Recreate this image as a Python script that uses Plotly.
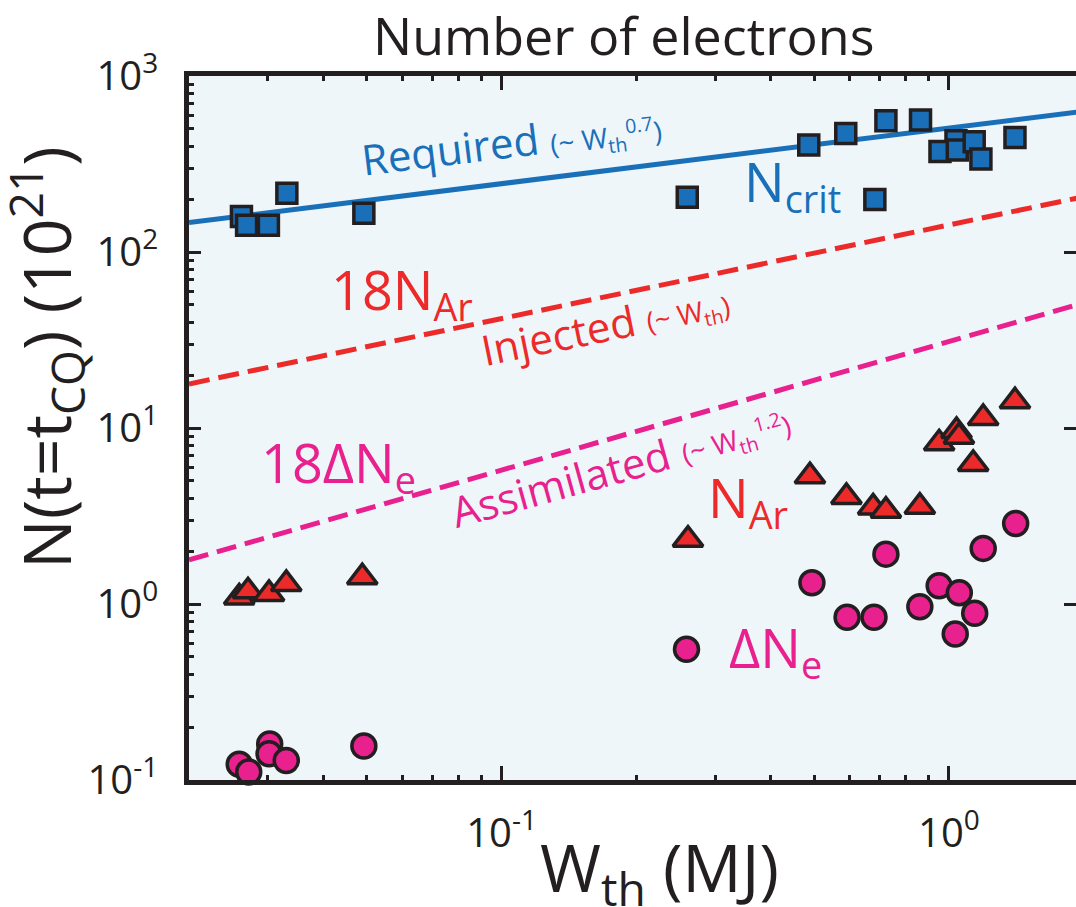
import math
import plotly.graph_objects as go

# ---------------- data ----------------
# N_crit (required number of electrons), blue squares
ncrit_w = [0.0262, 0.0269, 0.0301, 0.0331, 0.0492, 0.260, 0.486, 0.588, 0.723, 0.864,
           1.037, 0.955, 1.044, 1.139, 1.179, 1.405, 0.683]
ncrit_n = [159, 142, 142, 216, 166, 205, 405, 472, 557, 562,
           429, 372, 380, 423, 338, 448, 199]

# N_Ar (injected argon), red triangles
nar_w = [0.0259, 0.0271, 0.0302, 0.0330, 0.0488, 0.261, 0.489, 0.590, 0.677, 0.723,
         0.861, 0.951, 1.040, 1.053, 1.133, 1.193, 1.405]
nar_n = [1.09, 1.18, 1.14, 1.30, 1.42, 2.32, 5.32, 4.06, 3.54, 3.39,
         3.57, 8.19, 9.62, 8.93, 6.25, 11.4, 14.2]

# Delta N_e (assimilated), magenta circles
dne_w = [0.0259, 0.0272, 0.0303, 0.0302, 0.0330, 0.0492, 0.259, 0.494, 0.592, 0.680,
         0.723, 0.861, 0.951, 1.055, 1.142, 1.033, 1.193, 1.410]
dne_n = [0.123, 0.111, 0.160, 0.141, 0.129, 0.156, 0.553, 1.32, 0.84, 0.84,
         1.92, 0.965, 1.27, 1.16, 0.886, 0.675, 2.07, 2.87]

# fitted trend lines (end points)
fit_w = [0.02, 2.0]
required_n = [147, 630]
injected_n = [17.8, 206]
assimilated_n = [1.78, 51.4]

# ticks
y_tickvals = [0.1, 1, 10, 100, 1000]
y_ticktext = ["10<sup>-1</sup>", "10<sup>0</sup>", "10<sup>1</sup>", "10<sup>2</sup>", "10<sup>3</sup>"]
x_tickvals = [0.1, 1]
x_ticktext = ["10<sup>-1</sup>", "10<sup>0</sup>"]
minor_vals = [m * 10 ** e for e in range(-2, 4) for m in range(2, 10)]

# ---------------- styles ----------------
INK = "#231F20"
BLUE = "#1A70B8"
RED = "#EC2A2A"
MAG = "#E8218E"
BG = "#EEF6FA"
FONT = "Open Sans"

W, H = 1076, 907
L, R, T, B = 189, 0, 76, 127
x_hi = -1 + (1076 - 502) / 447.0  # log10 of right edge


def px(xp):
    return (xp - L) / (W - L - R)


def py(yp):
    return (H - B - yp) / (H - T - B)


fig = go.Figure()

fig.add_trace(go.Scatter(x=fit_w, y=required_n, mode="lines",
                         line=dict(color=BLUE, width=5), hoverinfo="skip"))
fig.add_trace(go.Scatter(x=fit_w, y=injected_n, mode="lines",
                         line=dict(color=RED, width=5, dash="21px,9px"), hoverinfo="skip"))
fig.add_trace(go.Scatter(x=fit_w, y=assimilated_n, mode="lines",
                         line=dict(color=MAG, width=5, dash="20px,9px"), hoverinfo="skip"))

fig.add_trace(go.Scatter(x=ncrit_w, y=ncrit_n, mode="markers", cliponaxis=False,
                         marker=dict(symbol="square", size=20, color=BLUE,
                                     line=dict(color=INK, width=3.5))))
fig.add_trace(go.Scatter(x=nar_w, y=nar_n, mode="markers", cliponaxis=False,
                         marker=dict(symbol="triangle-up", size=26, color=RED,
                                     line=dict(color=INK, width=3.5))))
fig.add_trace(go.Scatter(x=dne_w, y=dne_n, mode="markers", cliponaxis=False,
                         marker=dict(symbol="circle", size=24, color=MAG,
                                     line=dict(color=INK, width=3.5))))
# carrier for right-side tick axis
fig.add_trace(go.Scatter(x=[None], y=[None], yaxis="y2", mode="markers", hoverinfo="skip"))

ann = []


def add(text, x, y, size, color, angle=0):
    ann.append(dict(text=text, x=px(x), y=py(y), xref="paper", yref="paper",
                    showarrow=False, xanchor="center", yanchor="middle",
                    textangle=angle, font=dict(family=FONT, size=size, color=color)))


add("Number of electrons", 623, 35, 52, INK)
add("W<sub>th</sub> (MJ)", 659, 870, 66, INK)
add("N(t=t<sub>CQ</sub>) (10<sup>21</sup>)", 47, 358, 66, INK, -90)

add("Required", 450, 148, 42, BLUE, -7)
add("(~ W<sub>th</sub><sup>0.7</sup>)", 606, 138, 28, BLUE, -7)
add("N<sub>crit</sub>", 792, 184, 54, BLUE)

add("18N<sub>Ar</sub>", 402, 292, 54, RED)
add("Injected", 558, 334, 42, RED, -11.5)
add("(~ W<sub>th</sub>)", 688, 315, 28, RED, -11.5)
add("N<sub>Ar</sub>", 748, 500, 54, RED)

add("18ΔN<sub>e</sub>", 338, 465, 54, MAG)
add("Assimilated", 560, 482, 42, MAG, -15.5)
add("(~ W<sub>th</sub><sup>1.2</sup>)", 736, 439, 28, MAG, -15.5)
add("ΔN<sub>e</sub>", 775, 650, 54, MAG)

fig.update_layout(
    width=W, height=H,
    margin=dict(l=L, r=R, t=T, b=B, pad=0),
    paper_bgcolor="white", plot_bgcolor=BG,
    showlegend=False,
    font=dict(family=FONT, color=INK),
    annotations=ann,
    xaxis=dict(type="log", range=[math.log10(0.02), x_hi],
               showline=True, linecolor=INK, linewidth=4.5, mirror="ticks",
               ticks="inside", ticklen=14, tickwidth=3, tickcolor=INK,
               tickmode="array", tickvals=x_tickvals, ticktext=x_ticktext,
               tickfont=dict(family=FONT, size=40, color=INK),
               ticklabelstandoff=14,
               minor=dict(tickmode="array", tickvals=minor_vals, ticks="inside",
                          ticklen=5, tickwidth=2.5, tickcolor=INK, showgrid=False),
               showgrid=False, zeroline=False),
    yaxis=dict(type="log", range=[-1, 3],
               showline=True, linecolor=INK, linewidth=4.5, mirror=False,
               ticks="inside", ticklen=12, tickwidth=3, tickcolor=INK,
               tickmode="array", tickvals=y_tickvals, ticktext=y_ticktext,
               tickfont=dict(family=FONT, size=40, color=INK),
               ticklabelstandoff=18,
               minor=dict(tickmode="array", tickvals=minor_vals, ticks="inside",
                          ticklen=5, tickwidth=2.5, tickcolor=INK, showgrid=False),
               showgrid=False, zeroline=False),
    yaxis2=dict(type="log", range=[-1, 3], overlaying="y", side="right", anchor="x",
                showline=False, ticks="inside", ticklen=12, tickwidth=3, tickcolor=INK,
                tickmode="array", tickvals=y_tickvals, showticklabels=False,
                showgrid=False, zeroline=False),
)

fig.write_html("out.html")
